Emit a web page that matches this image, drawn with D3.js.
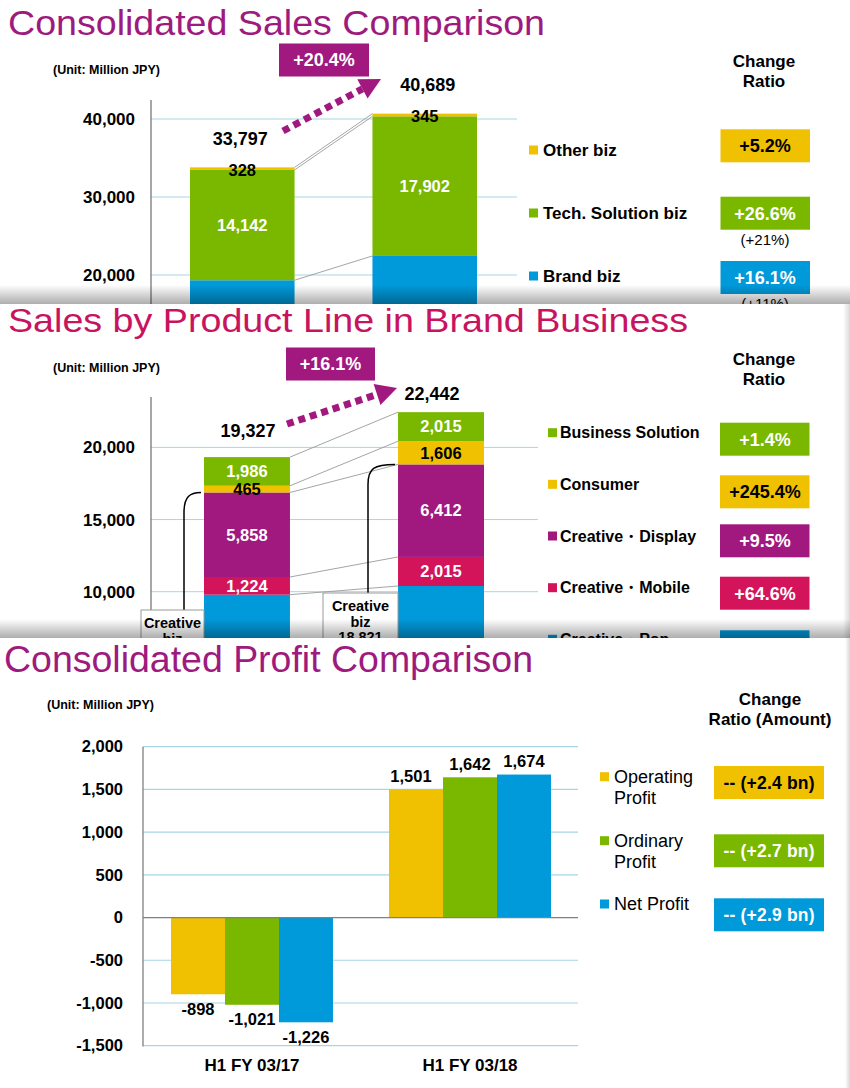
<!DOCTYPE html>
<html><head><meta charset="utf-8">
<script src="https://cdn.jsdelivr.net/npm/d3@7"></script>
<style>
body{margin:0;background:#fff;}
svg{display:block;}
text{font-family:"Liberation Sans",Arial,Helvetica,sans-serif;}
</style>
</head><body>
<svg id="c" width="850" height="1088"></svg>
<script>
// ---------------- DATA ----------------
// Panel 1: Consolidated Sales Comparison
const salesCategories = ["H1 FY 03/17", "H1 FY 03/18"];
const salesSeries = ["Brand biz", "Tech. Solution biz", "Other biz"];
const salesBrand = [19327, 22442];
const salesTech = [14142, 17902];
const salesOther = [328, 345];
const salesTotals = [33797, 40689];
const salesTicks = [20000, 30000, 40000];
const salesGrowth = "+20.4%";
const salesLegendOrder = ["Other biz", "Tech. Solution biz", "Brand biz"];
const salesRatios = ["+5.2%", "+26.6%", "+16.1%"];
const salesRatioNotes = ["", "(+21%)", "(+11%)"];

// Panel 2: Sales by Product Line in Brand Business
const brandSeries = ["Creative・Pop", "Creative・Mobile", "Creative・Display", "Consumer", "Business Solution"];
const brandPop = [9794, 10394];
const brandMobile = [1224, 2015];
const brandDisplay = [5858, 6412];
const brandConsumer = [465, 1606];
const brandBizSolution = [1986, 2015];
const brandTotals = [19327, 22442];
const creativeBizTotals = [16876, 18821];
const brandTicks = [10000, 15000, 20000];
const brandGrowth = "+16.1%";
const brandLegendOrder = ["Business Solution", "Consumer", "Creative・Display", "Creative・Mobile", "Creative・Pop"];
const brandRatios = ["+1.4%", "+245.4%", "+9.5%", "+64.6%", ""];

// Panel 3: Consolidated Profit Comparison
const profitCategories = ["H1 FY 03/17", "H1 FY 03/18"];
const profitSeries = ["Operating Profit", "Ordinary Profit", "Net Profit"];
const operatingProfit = [-898, 1501];
const ordinaryProfit = [-1021, 1642];
const netProfit = [-1226, 1674];
const profitTicks = [-1500, -1000, -500, 0, 500, 1000, 1500, 2000];
const profitLegendLines = [["Operating", "Profit"], ["Ordinary", "Profit"], ["Net Profit"]];
const profitRatios = ["-- (+2.4 bn)", "-- (+2.7 bn)", "-- (+2.9 bn)"];

// ---------------- STYLE ----------------
const COL = {
  yellow: "#EFC100", green: "#7AB800", blue: "#0099D9",
  purple: "#A1187F", crimson: "#D3145A", grid: "#A6D5E5",
  title1: "#9E1A7E", title2: "#C8135F"
};
const fmt = d3.formatLocale({ decimal: ".", thousands: ",", grouping: [3], currency: ["", ""], minus: "-" }).format(",");
const svg = d3.select("#c");
const defs = svg.append("defs");

const gv = defs.append("linearGradient").attr("id", "shadeV").attr("x1", 0).attr("y1", 0).attr("x2", 0).attr("y2", 1);
gv.append("stop").attr("offset", "0%").attr("stop-color", "#000").attr("stop-opacity", 0);
gv.append("stop").attr("offset", "100%").attr("stop-color", "#000").attr("stop-opacity", 0.32);
const gh = defs.append("linearGradient").attr("id", "shadeH").attr("x1", 0).attr("y1", 0).attr("x2", 1).attr("y2", 0);
gh.append("stop").attr("offset", "0%").attr("stop-color", "#000").attr("stop-opacity", 0);
gh.append("stop").attr("offset", "100%").attr("stop-color", "#000").attr("stop-opacity", 0.15);

defs.append("clipPath").attr("id", "clip1").append("rect").attr("x", 0).attr("y", 0).attr("width", 850).attr("height", 304);
defs.append("clipPath").attr("id", "clip2").append("rect").attr("x", 0).attr("y", 304).attr("width", 850).attr("height", 334);

function T(g, x, y, s, o = {}) {
  return g.append("text").attr("x", x).attr("y", y)
    .attr("dy", o.dy !== undefined ? o.dy : "0.35em")
    .attr("text-anchor", o.anchor || "middle")
    .attr("font-size", o.size || 16)
    .attr("font-weight", o.weight || "bold")
    .attr("fill", o.fill || "#000")
    .text(s);
}
function arrow(g, x0, y0, x1, y1, color) {
  const dx = x1 - x0, dy = y1 - y0, L = Math.hypot(dx, dy), ux = dx / L, uy = dy / L;
  const hl = 21, hw = 11;
  const bx = x1 - ux * hl, by = y1 - uy * hl;
  g.append("line").attr("x1", x0).attr("y1", y0).attr("x2", bx).attr("y2", by)
    .attr("stroke", color).attr("stroke-width", 7).attr("stroke-dasharray", "7,5");
  g.append("path").attr("d", `M${x1},${y1}L${bx - uy * hw},${by + ux * hw}L${bx + uy * hw},${by - ux * hw}Z`).attr("fill", color);
}
function styleAxis(g, size) {
  g.select(".domain").remove();
  g.selectAll("text").attr("font-size", size).attr("font-weight", "bold").attr("fill", "#000")
    .attr("font-family", '"Liberation Sans",Arial,sans-serif');
}

// ================= PANEL 1 =================
(function () {
  const g = svg.append("g");
  const bottom = 304;
  g.append("rect").attr("width", 850).attr("height", bottom).attr("fill", "#fff");
  T(g, 8, 35, "Consolidated Sales Comparison", { anchor: "start", size: 35, weight: "normal", fill: COL.title1, dy: 0 })
    .attr("textLength", 537).attr("lengthAdjust", "spacingAndGlyphs");
  T(g, 53, 70, "(Unit: Million JPY)", { anchor: "start", size: 12.5 });

  const y = d3.scaleLinear().domain([20000, 40000]).range([275, 119]);
  const x = d3.scaleBand().domain(salesCategories).range([190, 477]).paddingInner(0.427).paddingOuter(0);
  const bw = x.bandwidth();
  const colors = { "Brand biz": COL.blue, "Tech. Solution biz": COL.green, "Other biz": COL.yellow };
  const vals = { "Brand biz": salesBrand, "Tech. Solution biz": salesTech, "Other biz": salesOther };

  const c = g.append("g").attr("clip-path", "url(#clip1)");
  c.selectAll(".gl").data(salesTicks).join("line")
    .attr("x1", 151).attr("x2", 517).attr("y1", d => y(d)).attr("y2", d => y(d))
    .attr("stroke", COL.grid).attr("stroke-width", 1);
  const ax = c.append("g").attr("transform", "translate(151,0)")
    .call(d3.axisLeft(y).tickValues(salesTicks).tickSize(0).tickPadding(16).tickFormat(fmt));
  styleAxis(ax, 17);
  c.append("line").attr("x1", 151).attr("x2", 151).attr("y1", 100).attr("y2", bottom).attr("stroke", "#777").attr("stroke-width", 1.3);

  const rows = salesCategories.map((cat, i) => {
    const r = { cat };
    salesSeries.forEach(s => r[s] = vals[s][i]);
    return r;
  });
  const stack = d3.stack().keys(salesSeries)(rows);

  stack.forEach(layer => {
    c.append("line").attr("x1", x(salesCategories[0]) + bw).attr("y1", y(layer[0][1]))
      .attr("x2", x(salesCategories[1])).attr("y2", y(layer[1][1]))
      .attr("stroke", "#9a9a9a").attr("stroke-width", 0.9);
  });
  stack.forEach(layer => {
    c.selectAll(null).data(layer).join("rect")
      .attr("x", d => x(d.data.cat)).attr("width", bw)
      .attr("y", d => y(d[1])).attr("height", d => y(d[0]) - y(d[1]))
      .attr("fill", colors[layer.key]);
  });
  stack.forEach(layer => {
    layer.forEach(d => {
      const isOther = layer.key === "Other biz";
      const yy = isOther ? y(d[1]) + 3 : y((d[0] + d[1]) / 2);
      if (yy < bottom) T(c, x(d.data.cat) + bw / 2, yy, fmt(d[1] - d[0]), { size: 16.5, fill: isOther ? "#000" : "#fff" });
    });
  });
  salesTotals.forEach((t, i) => {
    T(c, x(salesCategories[i]) + bw / 2 + (i ? 3 : -2), y(t) - 29, fmt(t), { size: 18 });
  });
  arrow(c, 283, 131, 381, 79, COL.purple);
  c.append("rect").attr("x", 279).attr("y", 43.5).attr("width", 90).attr("height", 33).attr("fill", COL.purple);
  T(c, 324, 60, salesGrowth, { size: 18, fill: "#fff" });

  T(c, 764, 61, "Change", { size: 17 });
  T(c, 764, 81, "Ratio", { size: 17 });
  const legY = [150, 213, 276];
  const boxY = [129.3, 196.7, 261];
  salesLegendOrder.forEach((s, i) => {
    c.append("rect").attr("x", 529).attr("y", legY[i] - 4.5).attr("width", 9).attr("height", 9).attr("fill", colors[s]);
    T(c, 543, legY[i], s, { anchor: "start", size: 17 });
    c.append("rect").attr("x", 720.5).attr("y", boxY[i]).attr("width", 89.5).attr("height", 33).attr("fill", colors[s]);
    T(c, 765, boxY[i] + 16.5, salesRatios[i], { size: 18, fill: s === "Other biz" ? "#000" : "#fff" });
    if (salesRatioNotes[i]) T(c, 765, boxY[i] + 43, salesRatioNotes[i], { size: 15, weight: "normal" });
  });
  g.append("rect").attr("x", 0).attr("y", 285).attr("width", 850).attr("height", 19).attr("fill", "url(#shadeV)");
})();

// ================= PANEL 2 =================
(function () {
  const g = svg.append("g");
  const bottom = 638;
  g.append("rect").attr("x", 0).attr("y", 304).attr("width", 850).attr("height", 334).attr("fill", "#fff");
  T(g, 8, 332, "Sales by Product Line in Brand Business", { anchor: "start", size: 34, weight: "normal", fill: COL.title2, dy: 0 })
    .attr("textLength", 680).attr("lengthAdjust", "spacingAndGlyphs");
  T(g, 53, 368, "(Unit: Million JPY)", { anchor: "start", size: 12.5 });

  const y = d3.scaleLinear().domain([10000, 20000]).range([591.7, 447.4]);
  const x = d3.scaleBand().domain(salesCategories).range([204, 484]).paddingInner(0.557).paddingOuter(0);
  const bw = x.bandwidth();
  const colors = {
    "Creative・Pop": COL.blue, "Creative・Mobile": COL.crimson, "Creative・Display": COL.purple,
    "Consumer": COL.yellow, "Business Solution": COL.green
  };
  const vals = {
    "Creative・Pop": brandPop, "Creative・Mobile": brandMobile, "Creative・Display": brandDisplay,
    "Consumer": brandConsumer, "Business Solution": brandBizSolution
  };
  const c = g.append("g").attr("clip-path", "url(#clip2)");
  c.selectAll(".gl").data(brandTicks).join("line")
    .attr("x1", 151).attr("x2", 538).attr("y1", d => y(d)).attr("y2", d => y(d))
    .attr("stroke", COL.grid).attr("stroke-width", 1);
  const ax = c.append("g").attr("transform", "translate(151,0)")
    .call(d3.axisLeft(y).tickValues(brandTicks).tickSize(0).tickPadding(16).tickFormat(fmt));
  styleAxis(ax, 17);
  c.append("line").attr("x1", 151).attr("x2", 151).attr("y1", 397).attr("y2", bottom).attr("stroke", "#777").attr("stroke-width", 1.3);

  const rows = salesCategories.map((cat, i) => {
    const r = { cat };
    brandSeries.forEach(s => r[s] = vals[s][i]);
    return r;
  });
  const stack = d3.stack().keys(brandSeries)(rows);
  stack.forEach(layer => {
    c.append("line").attr("x1", x(salesCategories[0]) + bw).attr("y1", y(layer[0][1]))
      .attr("x2", x(salesCategories[1])).attr("y2", y(layer[1][1]))
      .attr("stroke", "#9a9a9a").attr("stroke-width", 0.9);
  });
  stack.forEach(layer => {
    c.selectAll(null).data(layer).join("rect")
      .attr("x", d => x(d.data.cat)).attr("width", bw)
      .attr("y", d => y(d[1])).attr("height", d => y(d[0]) - y(d[1]))
      .attr("fill", colors[layer.key]);
  });
  stack.forEach(layer => {
    layer.forEach(d => {
      const isCons = layer.key === "Consumer";
      const yy = y((d[0] + d[1]) / 2);
      if (yy < bottom) T(c, x(d.data.cat) + bw / 2, yy, fmt(d[1] - d[0]), { size: 16.5, fill: isCons ? "#000" : "#fff" });
    });
  });
  const totOff = [26, 18], totDx = [1, -9];
  brandTotals.forEach((t, i) => {
    T(c, x(salesCategories[i]) + bw / 2 + totDx[i], y(t) - totOff[i], fmt(t), { size: 18 });
  });
  const boxes = [{ x: 141, y: 610, w: 63, lx: 184 }, { x: 323, y: 593, w: 75, lx: 368 }];
  creativeBizTotals.forEach((t, i) => {
    const b = boxes[i];
    const bx = x(salesCategories[i]);
    const ty = y(t);
    c.append("path").attr("d", `M${b.lx},${b.y}L${b.lx},${ty + 20}C${b.lx},${ty + 4} ${b.lx + 6},${ty} ${bx - 3},${ty}`)
      .attr("fill", "none").attr("stroke", "#000").attr("stroke-width", 1.5);
    c.append("rect").attr("x", b.x).attr("y", b.y).attr("width", b.w).attr("height", 58)
      .attr("fill", "#fff").attr("stroke", "#9a9a9a").attr("stroke-width", 1);
    ["Creative", "biz", fmt(t)].forEach((ln, j) => {
      const yy = b.y + 13 + j * 15.5;
      if (yy - 6 < bottom) T(c, b.x + b.w / 2, yy, ln, { size: 14.5 });
    });
  });
  arrow(c, 287, 424, 397, 388, COL.purple);
  c.append("rect").attr("x", 286).attr("y", 347.5).attr("width", 89).attr("height", 33).attr("fill", COL.purple);
  T(c, 330.5, 364, brandGrowth, { size: 18, fill: "#fff" });

  T(c, 764, 359, "Change", { size: 17 });
  T(c, 764, 379.5, "Ratio", { size: 17 });
  const legY = [432.7, 484.3, 536, 587.7, 639.3];
  const boxY = [422.7, 475.3, 524.3, 576.7, 630.3];
  brandLegendOrder.forEach((s, i) => {
    c.append("rect").attr("x", 548).attr("y", legY[i] - 4.5).attr("width", 9).attr("height", 9).attr("fill", colors[s]);
    T(c, 560, legY[i], s, { anchor: "start", size: 16 });
    c.append("rect").attr("x", 720).attr("y", boxY[i]).attr("width", 89.5).attr("height", 33).attr("fill", colors[s]);
    if (brandRatios[i]) T(c, 765, boxY[i] + 16.5, brandRatios[i], { size: 18, fill: s === "Consumer" ? "#000" : "#fff" });
  });
  g.append("rect").attr("x", 843).attr("y", 304).attr("width", 7).attr("height", 334).attr("fill", "url(#shadeH)");
  g.append("rect").attr("x", 0).attr("y", 619).attr("width", 850).attr("height", 19).attr("fill", "url(#shadeV)");
})();

// ================= PANEL 3 =================
(function () {
  const g = svg.append("g");
  g.append("rect").attr("x", 0).attr("y", 638).attr("width", 850).attr("height", 450).attr("fill", "#fff");
  T(g, 4, 672, "Consolidated Profit Comparison", { anchor: "start", size: 36, weight: "normal", fill: COL.title1, dy: 0 })
    .attr("textLength", 529).attr("lengthAdjust", "spacingAndGlyphs");
  T(g, 47, 705, "(Unit: Million JPY)", { anchor: "start", size: 12.5 });

  const y = d3.scaleLinear().domain([-1500, 2000]).range([1045.7, 746.7]);
  const x0 = d3.scaleBand().domain(profitCategories).range([171, 551]).paddingInner(0.257).paddingOuter(0);
  const x1 = d3.scaleBand().domain(profitSeries).range([0, x0.bandwidth()]).padding(0);
  const colors = { "Operating Profit": COL.yellow, "Ordinary Profit": COL.green, "Net Profit": COL.blue };
  const vals = { "Operating Profit": operatingProfit, "Ordinary Profit": ordinaryProfit, "Net Profit": netProfit };

  g.selectAll(".gl").data(profitTicks.filter(d => d !== 0)).join("line")
    .attr("x1", 143).attr("x2", 578).attr("y1", d => y(d)).attr("y2", d => y(d))
    .attr("stroke", COL.grid).attr("stroke-width", 1.2);
  const ax = g.append("g").attr("transform", "translate(143,0)")
    .call(d3.axisLeft(y).tickValues(profitTicks).tickSize(0).tickPadding(20).tickFormat(fmt));
  styleAxis(ax, 16.5);

  const data = [];
  profitCategories.forEach((cat, i) => profitSeries.forEach(s => data.push({ cat, s, v: vals[s][i] })));
  g.selectAll(".bar").data(data).join("rect")
    .attr("x", d => x0(d.cat) + x1(d.s)).attr("width", x1.bandwidth())
    .attr("y", d => y(Math.max(0, d.v))).attr("height", d => Math.abs(y(d.v) - y(0)))
    .attr("fill", d => colors[d.s]);
  data.forEach(d => {
    T(g, x0(d.cat) + x1(d.s) + x1.bandwidth() / 2 + (d.v > 0 && d.s === "Operating Profit" ? -5 : 0),
      y(d.v) + (d.v < 0 ? 14.5 : -13.5), fmt(d.v), { size: 16.5 });
  });
  g.append("line").attr("x1", 143).attr("x2", 578).attr("y1", y(0)).attr("y2", y(0)).attr("stroke", "#808080").attr("stroke-width", 1.3);
  g.append("line").attr("x1", 143).attr("x2", 143).attr("y1", 746.7).attr("y2", 1046.5).attr("stroke", "#808080").attr("stroke-width", 1.3);

  profitCategories.forEach(cat => {
    T(g, x0(cat) + x0.bandwidth() / 2, 1065, cat, { size: 17 });
  });

  T(g, 770, 699, "Change", { size: 17 });
  T(g, 770, 719.5, "Ratio (Amount)", { size: 17 });
  const legY = [776.7, 840.7, 904];
  const boxY = [766, 834.3, 898.3];
  profitSeries.forEach((s, i) => {
    g.append("rect").attr("x", 600).attr("y", legY[i] - 4.5).attr("width", 9).attr("height", 9).attr("fill", colors[s]);
    profitLegendLines[i].forEach((ln, j) => T(g, 614, legY[i] + j * 21, ln, { anchor: "start", size: 18, weight: "normal" }));
    g.append("rect").attr("x", 714).attr("y", boxY[i]).attr("width", 110).attr("height", 33).attr("fill", colors[s]);
    T(g, 769, boxY[i] + 16.5, profitRatios[i], { size: 17.5, fill: s === "Operating Profit" ? "#000" : "#fff" })
      .attr("textLength", 91).attr("lengthAdjust", "spacing");
  });
  g.append("rect").attr("x", 845).attr("y", 638).attr("width", 5).attr("height", 450).attr("fill", "url(#shadeH)");
})();
</script>
</body></html>
